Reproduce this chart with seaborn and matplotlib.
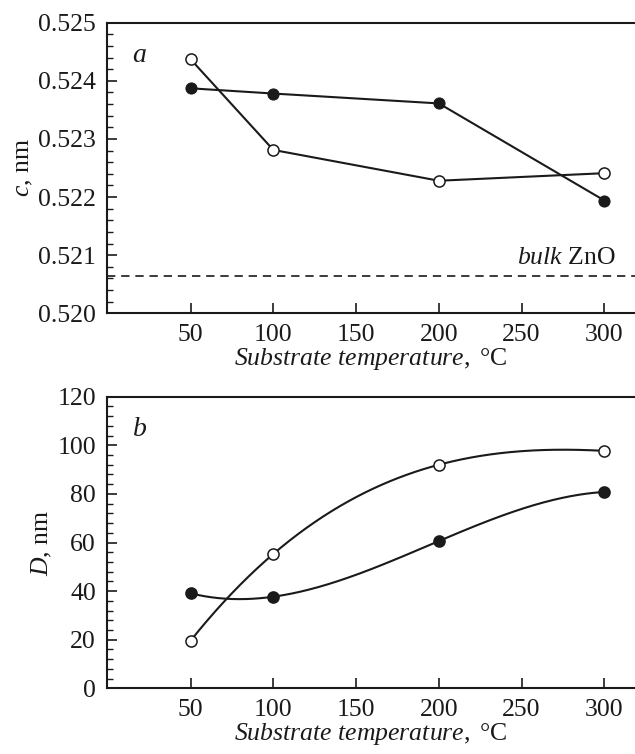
import numpy as np
import pandas as pd
import matplotlib
matplotlib.use('Agg')
import matplotlib.pyplot as plt
import seaborn as sns

# data
temp = [50, 100, 200, 300]
c_open = [0.52437, 0.52281, 0.52228, 0.52241]
c_filled = [0.52387, 0.52378, 0.52361, 0.52194]
c_bulk = 0.52065
d_open = [19.6, 55.3, 92.0, 97.7]
d_filled = [39.1, 37.7, 60.6, 80.8]
x_ticks = [50, 100, 150, 200, 250, 300]

sns.set_style("ticks")
plt.rcParams['font.family'] = ['Liberation Serif', 'DejaVu Serif']
plt.rcParams['mathtext.fontset'] = 'custom'
plt.rcParams['mathtext.rm'] = 'Liberation Serif'
plt.rcParams['mathtext.it'] = 'Liberation Serif:italic'
plt.rcParams['font.size'] = 18.5

ink = '#1a1a1a'
fig = plt.figure(figsize=(6.35, 7.54), dpi=100)
ax1 = fig.add_axes([0.1685, 0.5845, 0.8315, 0.3855])
ax2 = fig.add_axes([0.1685, 0.0871, 0.8315, 0.3868])

lw = 1.5
ms = 8.0


def style(ax):
    for s in ['left', 'bottom', 'top']:
        ax.spines[s].set_linewidth(1.5)
        ax.spines[s].set_color(ink)
    ax.spines['right'].set_visible(False)
    ax.tick_params(axis='both', which='both', direction='in', colors=ink,
                   labelcolor=ink, labelsize=18.5, right=False, top=False)
    ax.tick_params(axis='both', which='major', length=7, width=1.2, pad=8)
    ax.tick_params(axis='y', which='minor', length=4, width=1.0)
    ax.tick_params(axis='x', which='minor', bottom=False)
    ax.set_xlim(-0.5, 318.5)
    ax.set_xticks(x_ticks)
    ax.set_xlabel(r"$Substrate\ temperature,\ \mathrm{°C}$", fontsize=18.5,
                  labelpad=0, color=ink)


# panel a
df_a = pd.DataFrame({'T': temp, 'open': c_open, 'filled': c_filled})
sns.lineplot(data=df_a, x='T', y='filled', ax=ax1, color=ink, lw=lw,
             marker='o', markersize=ms, markerfacecolor=ink, markeredgecolor=ink)
sns.lineplot(data=df_a, x='T', y='open', ax=ax1, color=ink, lw=lw,
             marker='o', markersize=ms, markerfacecolor='white', markeredgecolor=ink,
             markeredgewidth=1.1)
ax1.axhline(c_bulk, color=ink, lw=1.2, ls=(0, (5, 3.5)))
ax1.text(307, c_bulk + 0.00012, r"$bulk$ ZnO", ha='right', va='bottom', fontsize=18.5, color=ink)
ax1.text(0.048, 0.865, r"$a$", transform=ax1.transAxes, fontsize=20, color=ink)
ax1.set_ylim(0.520, 0.525)
yt = np.arange(0.520, 0.52501, 0.001)
ax1.set_yticks(yt)
ax1.set_yticklabels([f"{v:.3f}" for v in yt])
ax1.yaxis.set_minor_locator(matplotlib.ticker.MultipleLocator(0.0002))
ax1.set_ylabel(r"$c$, nm", fontsize=18.5, labelpad=2, color=ink)
style(ax1)

# panel b: smooth curves through the points
xs = np.linspace(temp[0], temp[-1], 300)
for vals, face in [(d_open, 'white'), (d_filled, ink)]:
    coef = np.polyfit(temp, vals, 3)
    curve = pd.DataFrame({'T': xs, 'D': np.polyval(coef, xs)})
    sns.lineplot(data=curve, x='T', y='D', ax=ax2, color=ink, lw=lw)
    sns.scatterplot(x=temp, y=vals, ax=ax2, s=ms ** 2, color=face,
                    edgecolor=ink, linewidth=1.1, zorder=3)
ax2.text(0.048, 0.865, r"$b$", transform=ax2.transAxes, fontsize=20, color=ink)
ax2.set_ylim(0, 120)
ax2.set_yticks(range(0, 121, 20))
ax2.yaxis.set_minor_locator(matplotlib.ticker.MultipleLocator(4))
ax2.set_ylabel(r"$D$, nm", fontsize=18.5, labelpad=2, color=ink)
style(ax2)

fig.savefig('out.png', dpi=100, facecolor='white')
